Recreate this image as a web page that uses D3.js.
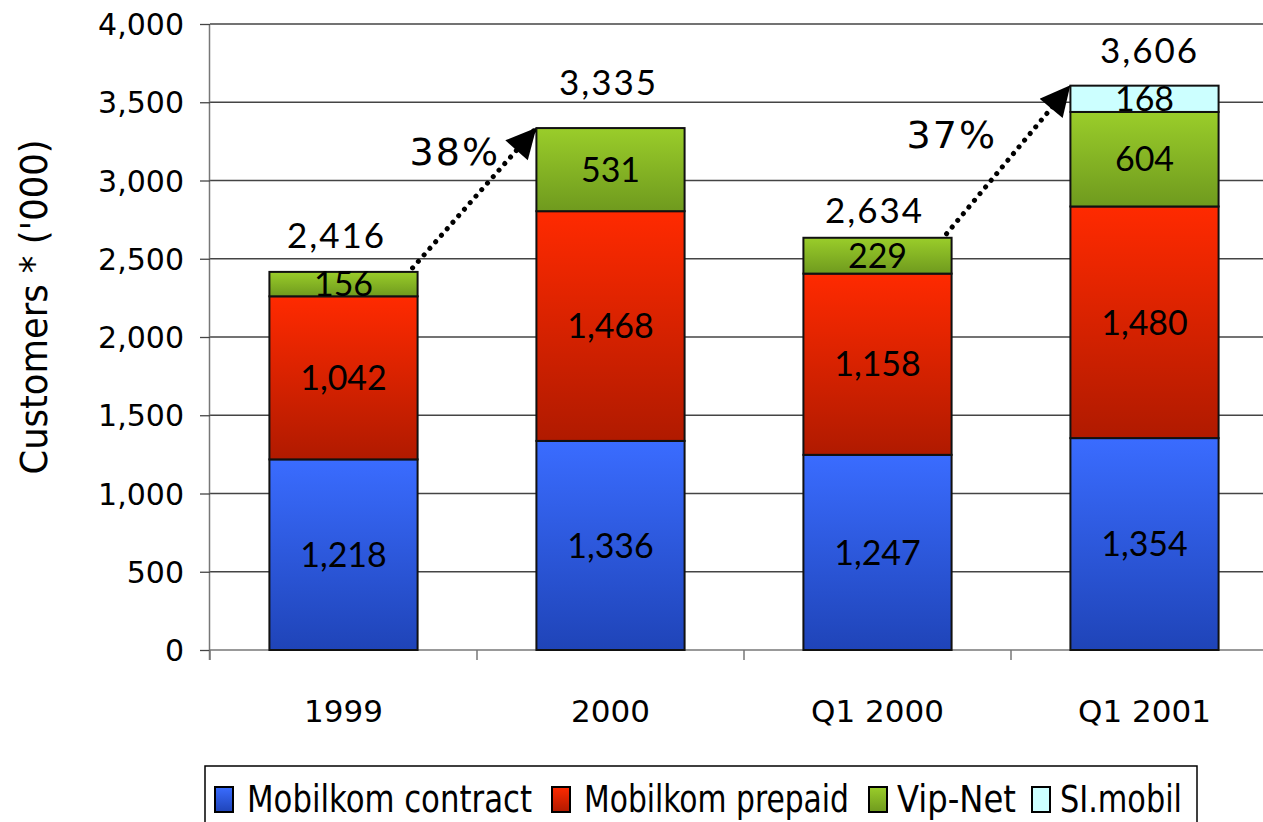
<!DOCTYPE html>
<html>
<head>
<meta charset="utf-8">
<script src="https://cdn.jsdelivr.net/npm/d3@7"></script>
<style>
  body { margin: 0; background: #fff; }
  svg { display: block; }
  .tick text { font-family: "DejaVu Sans", sans-serif; }
</style>
</head>
<body>
<svg id="chart" width="1263" height="822"></svg>
<script>
// data
const categories = ["1999", "2000", "Q1 2000", "Q1 2001"]
const contract = [1218, 1336, 1247, 1354]
const prepaid  = [1042, 1468, 1158, 1480]
const vipnet   = [156, 531, 229, 604]
const simobil  = [0, 0, 0, 168]
const totals   = [2416, 3335, 2634, 3606]
const seriesNames = ["Mobilkom contract", "Mobilkom prepaid", "Vip-Net", "SI.mobil"]
const yTicks = [0, 500, 1000, 1500, 2000, 2500, 3000, 3500, 4000]
const growth = [{from: 0, to: 1, label: "38%"}, {from: 2, to: 3, label: "37%"}]

// label placement tweaks (px)
const totalDy = [24, 33, 15, 23]
const totalDx = [-7, -2, -3, 5]
const growthLabelPos = [[500, 165], [997, 148]]

const svg = d3.select("#chart")
const x0 = 210, x1 = 1278, yBot = 650, yTop = 24

const x = d3.scaleBand().domain(categories).range([x0, x1]).paddingInner(0.445).paddingOuter(0.2225)
const y = d3.scaleLinear().domain([0, 4000]).range([yBot, yTop])

// gradients
const grads = [
  {id: "gBlue", top: "#3a6cff", bot: "#1f44b8"},
  {id: "gRed", top: "#ff2a00", bot: "#b01a00"},
  {id: "gGreen", top: "#9acd2a", bot: "#6f9a1e"},
  {id: "gCyan", top: "#ccffff", bot: "#ccffff"}
]
const defs = svg.append("defs")
grads.forEach(g => {
  const lg = defs.append("linearGradient").attr("id", g.id).attr("x1", 0).attr("y1", 0).attr("x2", 0).attr("y2", 1)
  lg.append("stop").attr("offset", "0%").attr("stop-color", g.top)
  lg.append("stop").attr("offset", "100%").attr("stop-color", g.bot)
})
defs.append("marker").attr("id", "arrow").attr("viewBox", "0 0 10 10")
    .attr("refX", 9).attr("refY", 5)
    .attr("markerUnits", "userSpaceOnUse").attr("orient", "auto")
    .attr("markerWidth", 32).attr("markerHeight", 30)
  .append("path").attr("d", "M0,0 L10,5 L0,10 Z").attr("fill", "#000")

// gridlines
svg.append("g").selectAll("line").data(yTicks.slice(1)).enter().append("line")
   .attr("x1", x0).attr("x2", 1263).attr("y1", d => y(d)).attr("y2", d => y(d))
   .attr("stroke", "#444").attr("stroke-width", 1.3)

// y axis
const yAxis = svg.append("g").attr("transform", `translate(${x0},0)`)
  .call(d3.axisLeft(y).tickValues(yTicks).tickFormat(d3.format(",")).tickSize(10).tickPadding(16))
yAxis.selectAll("text").attr("font-size", 30).attr("fill", "#000").attr("dy", "0.35em")
yAxis.select(".domain").attr("d", `M-0.5,${yBot + 10}V${yTop}`).attr("stroke", "#777").attr("stroke-width", 1.5)
yAxis.selectAll(".tick line").attr("stroke", "#444").attr("stroke-width", 1.3)

// x axis
svg.append("line").attr("x1", x0).attr("x2", 1263).attr("y1", yBot).attr("y2", yBot).attr("stroke", "#777").attr("stroke-width", 1.5)
const xTickPos = [0, 1, 2, 3].map(i => x0 + i * x.step())
svg.append("g").selectAll("line").data(xTickPos).enter().append("line")
   .attr("x1", d => d).attr("x2", d => d).attr("y1", yBot).attr("y2", yBot + 10)
   .attr("stroke", "#777").attr("stroke-width", 1.5)
svg.append("g").selectAll("text").data(categories).enter().append("text")
   .attr("x", d => x(d) + x.bandwidth() / 2).attr("y", 722)
   .attr("text-anchor", "middle").attr("font-family", "DejaVu Sans, sans-serif")
   .attr("font-size", 31).text(d => d)

// stacked bars
const rows = categories.map((c, i) => ({cat: c, s0: contract[i], s1: prepaid[i], s2: vipnet[i], s3: simobil[i]}))
const stack = d3.stack().keys(["s0", "s1", "s2", "s3"])(rows)
const fills = ["url(#gBlue)", "url(#gRed)", "url(#gGreen)", "url(#gCyan)"]

stack.forEach((layer, k) => {
  const g = svg.append("g")
  const segs = layer.filter(d => d[1] - d[0] > 0)
  g.selectAll("rect").data(segs).enter().append("rect")
   .attr("x", d => x(d.data.cat)).attr("width", x.bandwidth())
   .attr("y", d => y(d[1])).attr("height", d => y(d[0]) - y(d[1]))
   .attr("fill", fills[k]).attr("stroke", "#111").attr("stroke-width", 2)
  g.selectAll("text").data(segs).enter().append("text")
   .attr("x", d => x(d.data.cat) + x.bandwidth() / 2)
   .attr("y", d => (y(d[0]) + y(d[1])) / 2)
   .attr("dy", "0.36em").attr("text-anchor", "middle")
   .attr("font-family", "Lato, sans-serif").attr("font-size", 34)
   .text(d => d3.format(",")(d[1] - d[0]))
})

// totals
svg.append("g").selectAll("text").data(totals).enter().append("text")
   .attr("x", (d, i) => x(categories[i]) + x.bandwidth() / 2 + totalDx[i])
   .attr("y", (d, i) => y(d) - totalDy[i])
   .attr("text-anchor", "middle").attr("font-family", "Lato, sans-serif")
   .attr("font-size", 35).attr("letter-spacing", 2).text(d => d3.format(",")(d))

// growth arrows
growth.forEach((gr, i) => {
  const sx = x(categories[gr.from]) + x.bandwidth() - 5
  const sy = y(totals[gr.from]) - 4
  const ex = x(categories[gr.to]) - 2
  const ey = y(totals[gr.to]) + 2
  svg.append("line").attr("x1", sx).attr("y1", sy).attr("x2", ex).attr("y2", ey)
     .attr("stroke", "#000").attr("stroke-width", 5).attr("stroke-linecap", "round")
     .attr("stroke-dasharray", "0.1,8.6").attr("marker-end", "url(#arrow)")
  svg.append("text").attr("x", growthLabelPos[i][0]).attr("y", growthLabelPos[i][1])
     .attr("text-anchor", "end").attr("font-family", "DejaVu Sans, sans-serif")
     .attr("font-size", 38).attr("letter-spacing", 2).text(gr.label)
})

// y title
svg.append("text").attr("transform", "translate(47,307) rotate(-90)")
   .attr("text-anchor", "middle").attr("font-family", "Liberation Sans Narrow, DejaVu Sans Condensed, sans-serif")
   .attr("font-size", 37).attr("textLength", 335).attr("lengthAdjust", "spacingAndGlyphs")
   .text("Customers * ('000)")

// legend
const legend = svg.append("g")
legend.append("rect").attr("x", 205).attr("y", 766).attr("width", 992).attr("height", 70)
      .attr("fill", "#fff").attr("stroke", "#000").attr("stroke-width", 1.5)
const legBox = [215, 552, 869, 1032]
const legText = [[247, 285], [584, 265], [897, 119], [1060, 122]]
seriesNames.forEach((n, i) => {
  legend.append("rect").attr("x", legBox[i]).attr("y", 787).attr("width", 18).attr("height", 25)
        .attr("fill", fills[i]).attr("stroke", "#000").attr("stroke-width", 2)
  legend.append("text").attr("x", legText[i][0]).attr("y", 812)
        .attr("font-family", "Liberation Sans Narrow, DejaVu Sans Condensed, sans-serif")
        .attr("font-size", 37).attr("textLength", legText[i][1]).attr("lengthAdjust", "spacingAndGlyphs")
        .text(n)
})
</script>
</body>
</html>
